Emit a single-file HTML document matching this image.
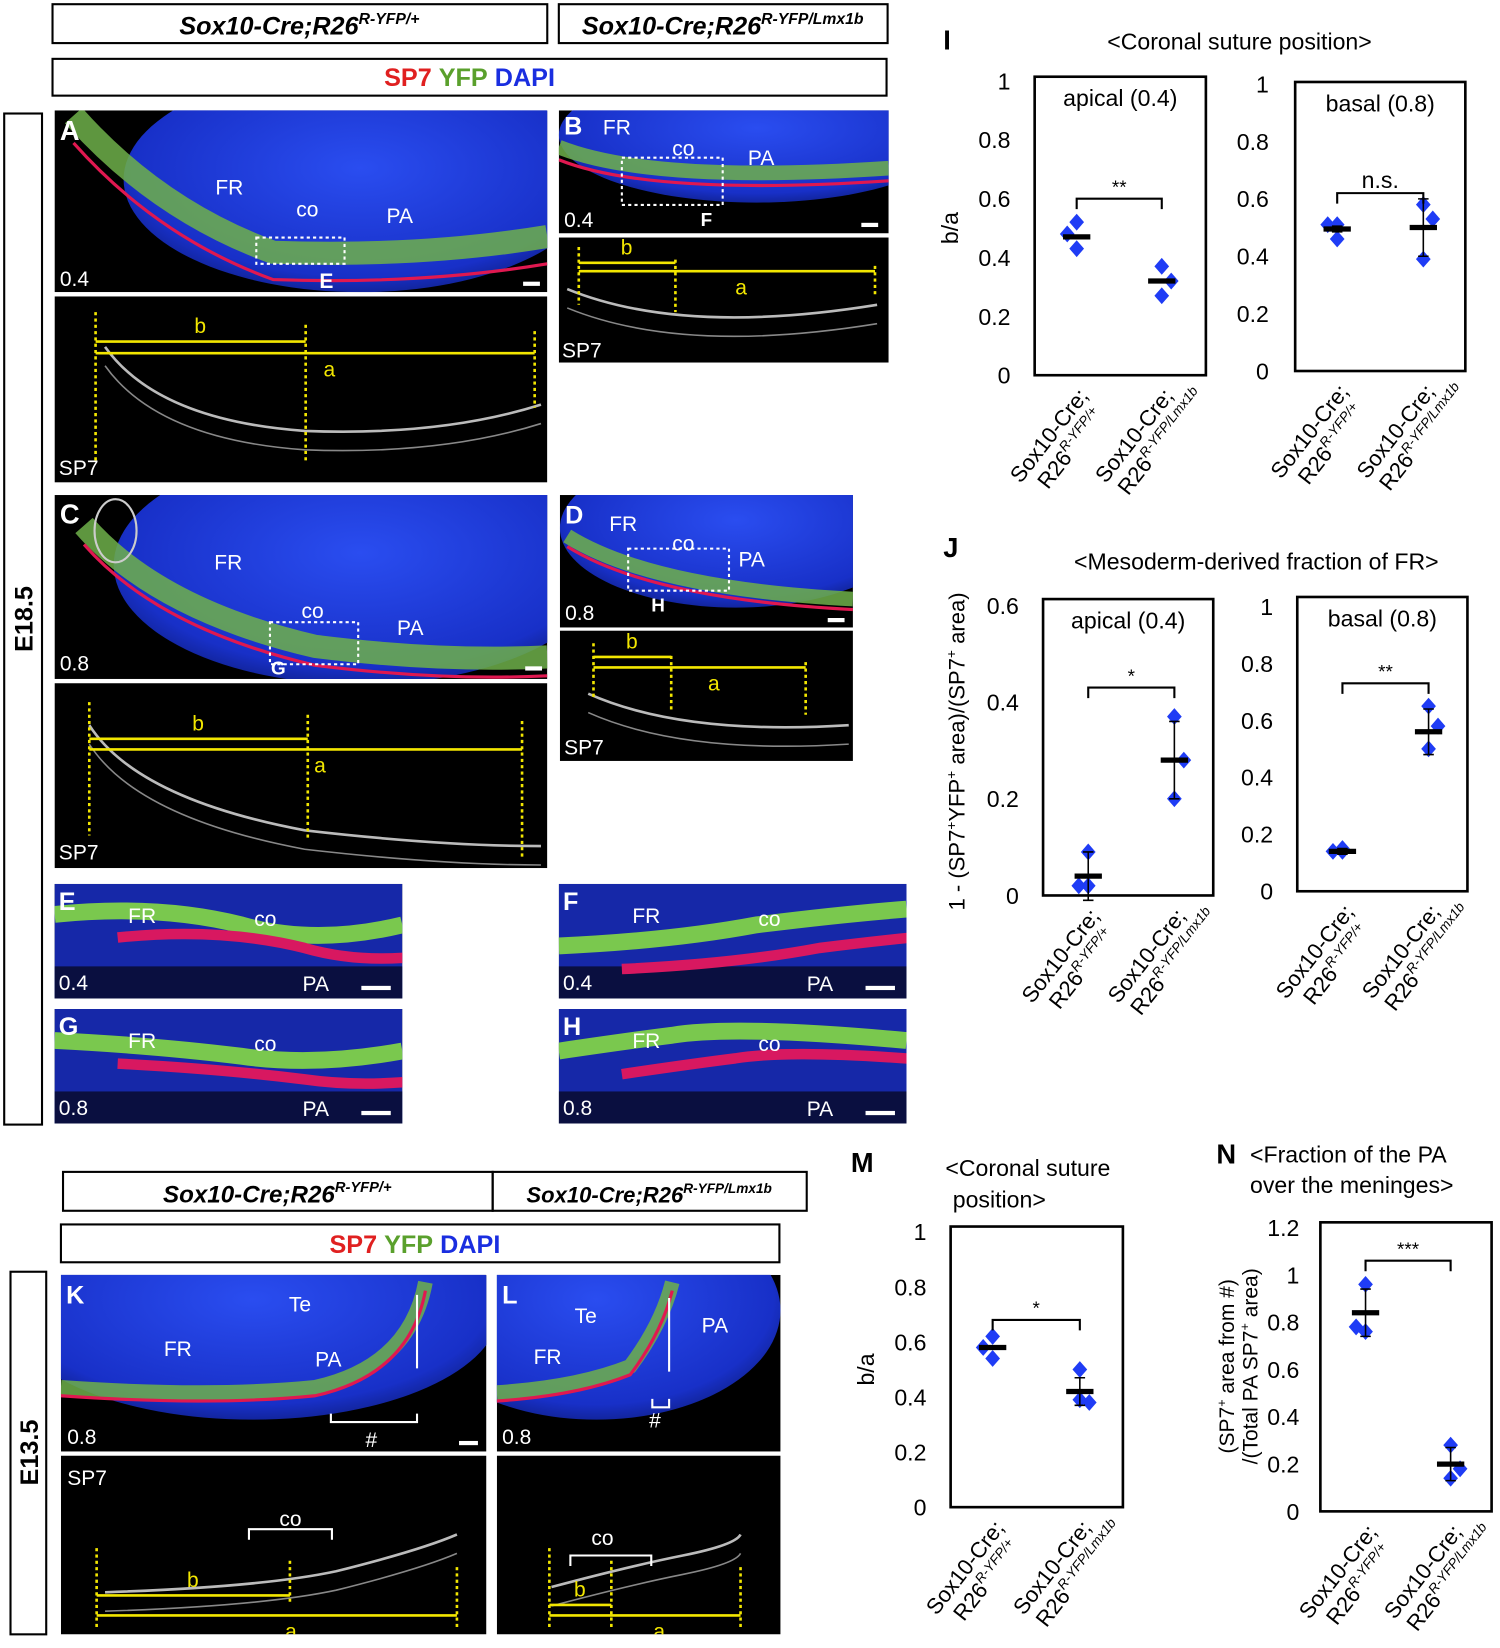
<!DOCTYPE html>
<html><head><meta charset="utf-8"><style>
html,body{margin:0;padding:0;background:#fff;width:1500px;height:1648px;overflow:hidden}
svg{display:block;font-family:"Liberation Sans",Arial,sans-serif}
</style></head><body>
<svg id="fig" width="1500" height="1648" viewBox="0 0 1428 1568" preserveAspectRatio="none" xmlns="http://www.w3.org/2000/svg">
<defs>
<radialGradient id="brain" cx="0.5" cy="0.45" r="0.6"><stop offset="0" stop-color="#2a4df0"/><stop offset="0.8" stop-color="#1830c8"/><stop offset="1" stop-color="#0e1d80"/></radialGradient>
</defs>
<g font-weight="bold" font-style="italic" font-size="24">
<rect x="50" y="4" width="471" height="37" fill="none" stroke="#000" stroke-width="2"/>
<text x="285" y="33" text-anchor="middle">Sox10-Cre;R26<tspan font-size="15" dy="-10">R-YFP/+</tspan></text>
<rect x="532" y="4" width="313" height="37" fill="none" stroke="#000" stroke-width="2"/>
<text x="688" y="33" text-anchor="middle">Sox10-Cre;R26<tspan font-size="15" dy="-10">R-YFP/Lmx1b</tspan></text>
</g>
<g font-weight="bold" font-size="24">
<rect x="50" y="56" width="794" height="35" fill="none" stroke="#000" stroke-width="2"/>
<text x="447" y="82" text-anchor="middle"><tspan fill="#e02020">SP7</tspan> <tspan fill="#5aa02c">YFP</tspan> <tspan fill="#1a2ee0">DAPI</tspan></text>
</g>
<g>
<rect x="4" y="108" width="36" height="962" fill="none" stroke="#000" stroke-width="2"/>
<text transform="translate(31,589) rotate(-90)" text-anchor="middle" font-size="24" font-weight="bold">E18.5</text>
</g>
<g id="micro"></g>
<g font-weight="bold" font-style="italic" font-size="23">
<rect x="60" y="1115" width="409" height="37" fill="none" stroke="#000" stroke-width="2"/>
<text x="264" y="1144" text-anchor="middle">Sox10-Cre;R26<tspan font-size="14" dy="-10">R-YFP/+</tspan></text>
<rect x="469" y="1115" width="299" height="37" fill="none" stroke="#000" stroke-width="2"/>
<text x="618" y="1144" text-anchor="middle" font-size="21">Sox10-Cre;R26<tspan font-size="13" dy="-9">R-YFP/Lmx1b</tspan></text>
</g>
<g font-weight="bold" font-size="24">
<rect x="58" y="1165" width="684" height="36" fill="none" stroke="#000" stroke-width="2"/>
<text x="395" y="1192" text-anchor="middle"><tspan fill="#e02020">SP7</tspan> <tspan fill="#5aa02c">YFP</tspan> <tspan fill="#1a2ee0">DAPI</tspan></text>
</g>
<g>
<rect x="10" y="1210" width="34" height="345" fill="none" stroke="#000" stroke-width="2"/>
<text transform="translate(36,1382) rotate(-90)" text-anchor="middle" font-size="24" font-weight="bold">E13.5</text>
</g>
<g id="charts"></g>
</svg>
<script>
// ---------- chart data ----------
var groups = ["Sox10-Cre; R26R-YFP/+", "Sox10-Cre; R26R-YFP/Lmx1b"];
var iApicalCtrl = [0.52, 0.48, 0.43];
var iApicalMut = [0.37, 0.32, 0.27];
var iApicalMean = [0.47, 0.32];
var iApicalErr = [0.0, 0.0];
var iBasalCtrl = [0.51, 0.51, 0.46];
var iBasalMut = [0.58, 0.53, 0.39];
var iBasalMean = [0.495, 0.50];
var iBasalErr = [0.01, 0.10];
var jApicalCtrl = [0.09, 0.02, 0.02];
var jApicalMut = [0.37, 0.28, 0.20];
var jApicalMean = [0.04, 0.28];
var jApicalErr = [0.05, 0.08];
var jBasalCtrl = [0.15, 0.14, 0.14];
var jBasalMut = [0.65, 0.58, 0.50];
var jBasalMean = [0.14, 0.56];
var jBasalErr = [0.01, 0.08];
var mCtrl = [0.62, 0.58, 0.54];
var mMut = [0.50, 0.38, 0.39];
var mMean = [0.58, 0.42];
var mErr = [0.0, 0.05];
var nCtrl = [0.96, 0.78, 0.76];
var nMut = [0.28, 0.18, 0.14];
var nMean = [0.84, 0.20];
var nErr = [0.10, 0.07];
var ticks1 = ["0","0.2","0.4","0.6","0.8","1"];
var ticks06 = ["0","0.2","0.4","0.6"];
var ticks12 = ["0","0.2","0.4","0.6","0.8","1","1.2"];
var sigI = ["**","n.s."];
var sigJ = ["*","**"];
var sigM = ["*"];
var sigN = ["***"];

var NS = "http://www.w3.org/2000/svg";
function mk(tag, attrs, parent, txt){
  var e = document.createElementNS(NS, tag);
  for (var k in attrs) e.setAttribute(k, attrs[k]);
  if (txt !== undefined) e.textContent = txt;
  parent.appendChild(e);
  return e;
}
var charts = document.getElementById('charts');

function drawChart(name, box, yMax, ticks, tickX, ctrl, mut, mean, err, sig, sigY, subtitle){
  var g = mk('g', {}, charts);
  
  
  var y = function(v){ return box.b - (v / yMax) * (box.b - box.t0); };
  var r = mk('rect', {x: box.l, y: box.top, width: box.r - box.l, height: box.b - box.top, fill: 'none', stroke: '#000', 'stroke-width': 2.5}, g);
  
  
  for (var i = 0; i < ticks.length; i++){
    var t = mk('text', {x: tickX, y: y(parseFloat(ticks[i])) + 8, 'text-anchor': 'end', 'font-size': 22}, g, ticks[i]);
    
    
  }
  if (subtitle){
    var st = mk('text', {x: (box.l + box.r) / 2, y: box.top + 28, 'text-anchor': 'middle', 'font-size': 22}, g, subtitle);
    
    
  }
  var cx = [box.c1, box.c2];
  var sets = [ctrl, mut];
  for (var k = 0; k < 2; k++){
    var pts = sets[k];
    for (var j = 0; j < pts.length; j++){
      var px = cx[k] + (j === 1 ? (k === 0 ? -9 : 9) : 0);
      var py = y(pts[j]);
      var d = mk('path', {d: 'M' + px + ' ' + (py - 8) + 'L' + (px + 7) + ' ' + py + 'L' + px + ' ' + (py + 8) + 'L' + (px - 7) + ' ' + py + 'Z', fill: '#1f3cf5'}, g);
      
      
    }
    if (err[k] > 0){
      var e1 = mk('path', {d: 'M' + cx[k] + ' ' + y(mean[k] + err[k]) + 'V' + y(mean[k] - err[k]) + 'M' + (cx[k] - 5) + ' ' + y(mean[k] + err[k]) + 'h10M' + (cx[k] - 5) + ' ' + y(mean[k] - err[k]) + 'h10', stroke: '#000', 'stroke-width': 1.5, fill: 'none'}, g);
      
      
    }
    var m = mk('line', {x1: cx[k] - 13, x2: cx[k] + 13, y1: y(mean[k]), y2: y(mean[k]), stroke: '#000', 'stroke-width': 5}, g);
    
    
    var lg = mk('g', {transform: 'translate(' + (cx[k] + 12) + ',' + (box.b + 20) + ') rotate(-52)'}, g);
    
    
    mk('text', {x: 0, y: 0, 'text-anchor': 'end', 'font-size': 21}, lg, 'Sox10-Cre;');
    var l2 = mk('text', {x: k === 0 ? -6 : 18, y: 24, 'text-anchor': 'end', 'font-size': 21}, lg);
    l2.textContent = 'R26';
    mk('tspan', {'font-size': 13, dy: -9, 'font-style': 'italic'}, l2, k === 0 ? 'R-YFP/+' : 'R-YFP/Lmx1b');
  }
  var by = y(sigY);
  var br = mk('path', {d: 'M' + box.c1 + ' ' + (by + 10) + 'V' + by + 'H' + box.c2 + 'V' + (by + 10), stroke: '#000', 'stroke-width': 2, fill: 'none'}, g);
  
  
  var s = mk('text', {x: (box.c1 + box.c2) / 2, y: by - 5, 'text-anchor': 'middle', 'font-size': sig === 'n.s.' ? 22 : 18}, g, sig);
  
  
  return g;
}
function addText(x, y, txt, size, name, extra){
  var a = {x: x, y: y, 'font-size': size};
  for (var k in extra || {}) a[k] = extra[k];
  var t = mk('text', a, charts, txt);
  
  
  return t;
}
// I
addText(898, 47, 'I', 26, 'panel-label-i', {'font-weight': 'bold'});
addText(1180, 47, '<Coronal suture position>', 22, 'chart-title-i', {'text-anchor': 'middle'});
addText(0, 0, 'b/a', 22, 'y-axis-title-i', {transform: 'translate(912,217) rotate(-90)', 'text-anchor': 'middle'});
drawChart('chart-i-apical', {l: 985, r: 1148, top: 73, t0: 77, b: 357, c1: 1025, c2: 1106}, 1, ticks1, 962, iApicalCtrl, iApicalMut, iApicalMean, iApicalErr, sigI[0], 0.60, 'apical (0.4)');
drawChart('chart-i-basal', {l: 1233, r: 1395, top: 78, t0: 80, b: 353, c1: 1273, c2: 1355}, 1, ticks1, 1208, iBasalCtrl, iBasalMut, iBasalMean, iBasalErr, sigI[1], 0.62, 'basal (0.8)');
// J
addText(898, 530, 'J', 26, 'panel-label-j', {'font-weight': 'bold'});
addText(1196, 542, '<Mesoderm-derived fraction of FR>', 22, 'chart-title-j', {'text-anchor': 'middle'});
var jy = addText(0, 0, '', 21, 'y-axis-title-j', {transform: 'translate(918,715) rotate(-90)', 'text-anchor': 'middle'});
jy.innerHTML = '1 - (SP7<tspan font-size="13" dy="-8">+</tspan><tspan dy="8">YFP</tspan><tspan font-size="13" dy="-8">+</tspan><tspan dy="8"> area)/(SP7</tspan><tspan font-size="13" dy="-8">+</tspan><tspan dy="8"> area)</tspan>';
drawChart('chart-j-apical', {l: 993, r: 1155, top: 570, t0: 576, b: 852, c1: 1036, c2: 1118}, 0.6, ticks06, 970, jApicalCtrl, jApicalMut, jApicalMean, jApicalErr, sigJ[0], 0.43, 'apical (0.4)');
drawChart('chart-j-basal', {l: 1235, r: 1397, top: 568, t0: 577, b: 848, c1: 1278, c2: 1360}, 1, ticks1, 1212, jBasalCtrl, jBasalMut, jBasalMean, jBasalErr, sigJ[1], 0.73, 'basal (0.8)');
// M
addText(810, 1115, 'M', 26, 'panel-label-m', {'font-weight': 'bold'});
addText(900, 1119, '<Coronal suture', 22, 'chart-title-m-line1');
addText(907, 1149, 'position>', 22, 'chart-title-m-line2');
addText(0, 0, 'b/a', 22, 'y-axis-title-m', {transform: 'translate(832,1303) rotate(-90)', 'text-anchor': 'middle'});
drawChart('chart-m', {l: 905, r: 1069, top: 1167, t0: 1172, b: 1434, c1: 945, c2: 1028}, 1, ticks1, 882, mCtrl, mMut, mMean, mErr, sigM[0], 0.68);
// N
addText(1158, 1107, 'N', 26, 'panel-label-n', {'font-weight': 'bold'});
addText(1190, 1106, '<Fraction of the PA', 22, 'chart-title-n-line1');
addText(1190, 1135, 'over the meninges>', 22, 'chart-title-n-line2');
var ny = addText(0, 0, '', 20, 'y-axis-title-n', {transform: 'translate(1175,1300) rotate(-90)', 'text-anchor': 'middle'});
ny.innerHTML = '(SP7<tspan font-size="12" dy="-8">+</tspan><tspan dy="8"> area from #)</tspan>';
var ny2 = addText(0, 0, '', 20, 'y-axis-title-n-line2', {transform: 'translate(1197,1300) rotate(-90)', 'text-anchor': 'middle'});
ny2.innerHTML = '/(Total PA SP7<tspan font-size="12" dy="-8">+</tspan><tspan dy="8"> area)</tspan>';
drawChart('chart-n', {l: 1257, r: 1420, top: 1163, t0: 1168, b: 1438, c1: 1300, c2: 1381}, 1.2, ticks12, 1237, nCtrl, nMut, nMean, nErr, sigN[0], 1.06);

// ---------- microscopy panels (illustrative) ----------
var micro = document.getElementById('micro');
function panel(name, x, y, w, h, kind, opts){
  var g = mk('g', {}, micro);
  
  
  var cid = 'c' + name;
  var cp = mk('clipPath', {id: cid}, g);
  mk('rect', {x: x, y: y, width: w, height: h}, cp);
  var inner = mk('g', {'clip-path': 'url(#' + cid + ')'}, g);
  mk('rect', {x: x, y: y, width: w, height: h, fill: '#000'}, inner);
  if (kind === 'fluo'){
    mk('ellipse', {cx: x + w * opts.ex, cy: y + h * opts.ey, rx: w * opts.erx, ry: h * opts.ery, fill: 'url(#brain)'}, inner);
    mk('path', {d: opts.band, stroke: '#6fb04a', 'stroke-width': opts.bw || 14, fill: 'none', opacity: 0.85}, inner);
    mk('path', {d: opts.band, stroke: '#e01850', 'stroke-width': 3, fill: 'none', transform: 'translate(0,' + (opts.red || 12) + ')'}, inner);
  } else if (kind === 'strip'){
    mk('rect', {x: x, y: y, width: w, height: h, fill: '#1628a8'}, inner);
    mk('rect', {x: x, y: y + h * 0.72, width: w, height: h * 0.28, fill: '#0a0f40'}, inner);
    mk('path', {d: opts.green, stroke: '#7ac84e', 'stroke-width': 16, fill: 'none'}, inner);
    mk('path', {d: opts.green, stroke: '#d81860', 'stroke-width': 10, fill: 'none', transform: 'translate(' + (opts.rx || 60) + ',22)'}, inner);
  } else {
    mk('path', {d: opts.curve, stroke: '#bbb', 'stroke-width': 2.5, fill: 'none'}, inner);
    mk('path', {d: opts.curve, stroke: '#888', 'stroke-width': 1.5, fill: 'none', transform: 'translate(0,18)'}, inner);
  }
  return inner;
}
function lbl(par, x, y, t, size, color, bold){
  return mk('text', {x: x, y: y, fill: color || '#fff', 'font-size': size || 20, 'font-weight': bold ? 'bold' : 'normal'}, par, t);
}
function ylines(par, bx0, bx1, ax1, yb, ya, top, bot1, bot2, bot3){
  var Y = '#f2e600';
  mk('line', {x1: bx0, x2: bx0, y1: top, y2: bot1, stroke: Y, 'stroke-width': 2.5, 'stroke-dasharray': '3 3'}, par);
  mk('line', {x1: bx1, x2: bx1, y1: top + 12, y2: bot2, stroke: Y, 'stroke-width': 2.5, 'stroke-dasharray': '3 3'}, par);
  mk('line', {x1: ax1, x2: ax1, y1: top + 18, y2: bot3, stroke: Y, 'stroke-width': 2.5, 'stroke-dasharray': '3 3'}, par);
  mk('line', {x1: bx0, x2: bx1, y1: yb, y2: yb, stroke: Y, 'stroke-width': 2.5}, par);
  mk('line', {x1: bx0, x2: ax1, y1: ya, y2: ya, stroke: Y, 'stroke-width': 2.5}, par);
  lbl(par, (bx0 + bx1) / 2 - 6, yb - 8, 'b', 20, Y);
  lbl(par, (bx0 + ax1) / 2 + 8, ya + 22, 'a', 20, Y);
}
function dotbox(par, x, y, w, h){
  mk('rect', {x: x, y: y, width: w, height: h, fill: 'none', stroke: '#fff', 'stroke-width': 2, 'stroke-dasharray': '3 3'}, par);
}
var p = panel('panel-a', 52, 105, 469, 173, 'fluo', {ex: 0.62, ey: 0.38, erx: 0.48, ery: 0.62, band: 'M70 110 Q150 200 260 240 Q400 245 521 225', red: 26, bw: 22});
lbl(p, 57, 133, 'A', 26, '#fff', true); lbl(p, 205, 185, 'FR'); lbl(p, 282, 206, 'co'); lbl(p, 368, 212, 'PA'); lbl(p, 57, 272, '0.4'); lbl(p, 304, 274, 'E', 20, '#fff', true);
dotbox(p, 244, 226, 84, 25); mk('rect', {x: 498, y: 268, width: 16, height: 4, fill: '#fff'}, p);
p = panel('panel-a-sp7', 52, 282, 469, 177, 'gray', {curve: 'M100 330 Q150 400 290 410 Q420 415 515 385'});
ylines(p, 91, 291, 509, 325, 336, 297, 440, 440, 388); lbl(p, 56, 452, 'SP7');
p = panel('panel-b', 532, 105, 314, 117, 'fluo', {ex: 0.6, ey: 0.2, erx: 0.6, ery: 0.55, band: 'M532 140 Q620 175 846 160', red: 12});
lbl(p, 537, 128, 'B', 24, '#fff', true); lbl(p, 574, 128, 'FR'); lbl(p, 640, 148, 'co'); lbl(p, 712, 157, 'PA'); lbl(p, 537, 216, '0.4'); lbl(p, 667, 215, 'F', 18, '#fff', true);
dotbox(p, 592, 150, 96, 45); mk('rect', {x: 820, y: 212, width: 16, height: 4, fill: '#fff'}, p);
p = panel('panel-b-sp7', 532, 226, 314, 119, 'gray', {curve: 'M540 275 Q650 320 835 290'});
ylines(p, 551, 643, 833, 250, 258, 235, 290, 297, 282); lbl(p, 535, 340, 'SP7');
p = panel('panel-c', 52, 471, 469, 175, 'fluo', {ex: 0.62, ey: 0.38, erx: 0.5, ery: 0.65, band: 'M80 500 Q150 580 300 615 Q420 630 521 625', red: 18, bw: 22});
lbl(p, 57, 498, 'C', 26, '#fff', true); lbl(p, 204, 542, 'FR'); lbl(p, 287, 588, 'co'); lbl(p, 378, 604, 'PA'); lbl(p, 57, 638, '0.8'); lbl(p, 258, 642, 'G', 18, '#fff', true);
dotbox(p, 257, 592, 84, 40); mk('ellipse', {cx: 110, cy: 505, rx: 20, ry: 30, fill: 'none', stroke: '#ccc', 'stroke-width': 2}, p); mk('rect', {x: 500, y: 634, width: 16, height: 4, fill: '#fff'}, p);
p = panel('panel-c-sp7', 52, 650, 469, 176, 'gray', {curve: 'M85 690 Q130 760 290 790 Q420 805 515 805'});
ylines(p, 85, 293, 497, 703, 713, 668, 795, 800, 815); lbl(p, 56, 818, 'SP7');
p = panel('panel-d', 533, 471, 279, 126, 'fluo', {ex: 0.6, ey: 0.25, erx: 0.6, ery: 0.6, band: 'M540 510 Q620 560 812 570', red: 10});
lbl(p, 538, 498, 'D', 24, '#fff', true); lbl(p, 580, 505, 'FR'); lbl(p, 640, 524, 'co'); lbl(p, 703, 539, 'PA'); lbl(p, 538, 590, '0.8'); lbl(p, 620, 582, 'H', 18, '#fff', true);
dotbox(p, 598, 522, 96, 40); mk('rect', {x: 788, y: 588, width: 16, height: 4, fill: '#fff'}, p);
p = panel('panel-d-sp7', 533, 600, 279, 124, 'gray', {curve: 'M560 660 Q650 700 808 690'});
ylines(p, 565, 639, 767, 625, 635, 612, 665, 675, 680); lbl(p, 537, 718, 'SP7');
var strips = [['panel-e', 52, 841, 331, 'E', '0.4', 'M52 870 Q150 860 230 880 Q300 900 383 880'], ['panel-f', 532, 841, 331, 'F', '0.4', 'M532 900 Q640 895 720 880 Q800 870 863 865'], ['panel-g', 52, 960, 331, 'G', '0.8', 'M52 990 Q150 995 230 1005 Q300 1015 383 1000'], ['panel-h', 532, 960, 331, 'H', '0.8', 'M532 1000 Q600 990 640 985 Q700 975 863 990']];
for (var s = 0; s < strips.length; s++){
  var S = strips[s];
  p = panel(S[0], S[1], S[2], S[3], 109, 'strip', {green: S[6]});
  lbl(p, S[1] + 4, S[2] + 25, S[4], 24, '#fff', true);
  lbl(p, S[1] + 70, S[2] + 37, 'FR'); lbl(p, S[1] + 190, S[2] + 40, 'co'); lbl(p, S[1] + 236, S[2] + 102, 'PA'); lbl(p, S[1] + 4, S[2] + 101, S[5]);
  mk('rect', {x: S[1] + 292, y: S[2] + 97, width: 28, height: 4, fill: '#fff'}, p);
}
p = panel('panel-k', 58, 1213, 405, 168, 'fluo', {ex: 0.45, ey: 0.2, erx: 0.58, ery: 0.62, band: 'M58 1320 Q200 1330 300 1320 Q390 1300 405 1220', red: 8});
lbl(p, 63, 1240, 'K', 24, '#fff', true); lbl(p, 275, 1248, 'Te'); lbl(p, 156, 1290, 'FR'); lbl(p, 300, 1300, 'PA'); lbl(p, 64, 1374, '0.8'); lbl(p, 348, 1377, '#');
mk('path', {d: 'M315 1345 v8 h82 v-8', stroke: '#fff', 'stroke-width': 2, fill: 'none'}, p); mk('line', {x1: 397, x2: 397, y1: 1232, y2: 1302, stroke: '#fff', 'stroke-width': 2}, p); mk('rect', {x: 437, y: 1371, width: 18, height: 4, fill: '#fff'}, p);
p = panel('panel-k-sp7', 58, 1385, 405, 170, 'gray', {curve: 'M100 1515 Q250 1510 320 1495 Q400 1475 435 1460'});
ylines(p, 92, 276, 435, 1518, 1537, 1473, 1548, 1525, 1548); lbl(p, 64, 1413, 'SP7');
mk('path', {d: 'M237 1465 v-10 h79 v10', stroke: '#fff', 'stroke-width': 2, fill: 'none'}, p); lbl(p, 266, 1452, 'co');
p = panel('panel-l', 473, 1213, 270, 168, 'fluo', {ex: 0.35, ey: 0.2, erx: 0.65, ery: 0.62, band: 'M473 1325 Q550 1320 600 1300 Q630 1260 640 1220', red: 8});
lbl(p, 478, 1240, 'L', 24, '#fff', true); lbl(p, 547, 1259, 'Te'); lbl(p, 508, 1298, 'FR'); lbl(p, 668, 1268, 'PA'); lbl(p, 478, 1374, '0.8'); lbl(p, 618, 1358, '#');
mk('path', {d: 'M621 1331 v8 h16 v-8', stroke: '#fff', 'stroke-width': 2, fill: 'none'}, p); mk('line', {x1: 637, x2: 637, y1: 1235, y2: 1305, stroke: '#fff', 'stroke-width': 2}, p);
p = panel('panel-l-sp7', 473, 1385, 270, 170, 'gray', {curve: 'M525 1510 Q600 1490 650 1480 Q700 1470 705 1460'});
ylines(p, 523, 582, 705, 1527, 1537, 1473, 1548, 1548, 1548);
mk('path', {d: 'M543 1490 v-10 h77 v10', stroke: '#fff', 'stroke-width': 2, fill: 'none'}, p); lbl(p, 563, 1470, 'co');
</script>
</body></html>
